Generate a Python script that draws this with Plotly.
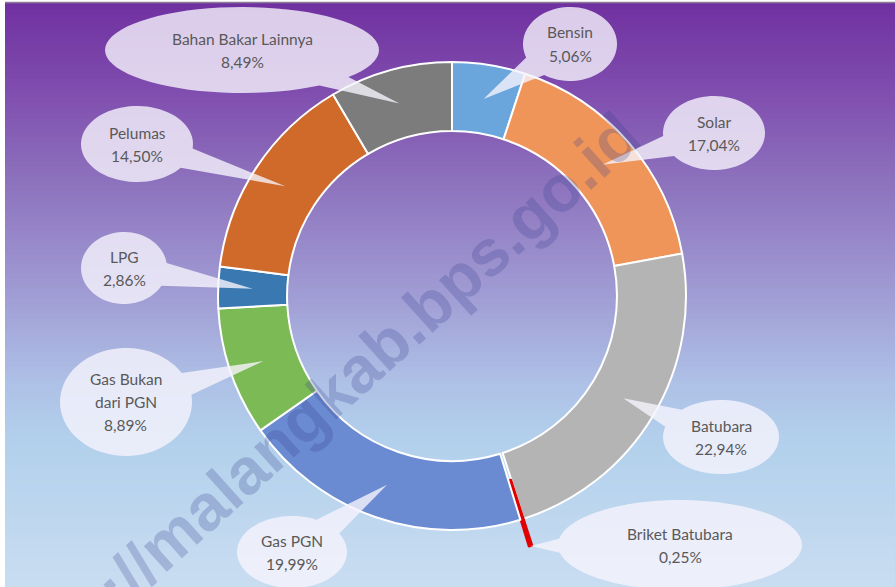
import math
import plotly.graph_objects as go

# ---------------- data ----------------
labels = ["Bensin", "Solar", "Batubara", "Briket Batubara", "Gas PGN",
          "Gas Bukan dari PGN", "LPG", "Pelumas", "Bahan Bakar Lainnya"]
label_lines = ["Bensin", "Solar", "Batubara", "Briket Batubara", "Gas PGN",
               "Gas Bukan<br>dari PGN", "LPG", "Pelumas", "Bahan Bakar Lainnya"]
values = [5.06, 17.04, 22.94, 0.25, 19.99, 8.89, 2.86, 14.50, 8.49]
value_text = ["5,06%", "17,04%", "22,94%", "0,25%", "19,99%",
              "8,89%", "2,86%", "14,50%", "8,49%"]

# ---------------- styling / layout ----------------
W, H = 895, 587
colors = ["#6aa6db", "#f0955a", "#b4b4b4", "#e00000", "#6a8bd2",
          "#7cba55", "#3a78b2", "#cf6a2a", "#7c7c7c"]
line_colors = ["white"] * len(values)
line_colors[3] = "#e00000"
pulls = [0, 0, 0, 0.12, 0, 0, 0, 0, 0]

CX, CY = 452, 296      # pie centre in pixels
R_OUT = 234            # outer radius in pixels
HOLE = 0.705
MAXPULL = max(pulls)
half = R_OUT * (1 + MAXPULL)

# callout ellipses: centre x, centre y, rx, ry (pixels)
bubbles = [
    (570, 44, 47, 37),
    (714, 133, 51, 37),
    (721, 437, 58, 37),
    (680, 545, 122, 45),
    (292, 552, 55, 36),
    (126, 402, 66, 54),
    (124, 268, 43, 36),
    (137, 144, 56, 38),
    (242, 50, 137, 43),
]
tip_r_frac = [0.85, 0.85, 0.85, 1.0, 0.85, 0.85, 0.85, 0.85, 0.85]


def px(x):
    return x / W


def py(y):
    return 1 - y / H


def lerp(c1, c2, t):
    return tuple(int(round(a + (b - a) * t)) for a, b in zip(c1, c2))


grad_stops = [(0.0, (112, 48, 160)), (0.15, (127, 76, 174)), (0.3, (140, 112, 188)),
              (0.5, (160, 156, 212)), (0.65, (174, 192, 230)), (0.75, (178, 208, 236)),
              (1.0, (201, 221, 241))]


def grad_color(t):
    for (t0, c0), (t1, c1) in zip(grad_stops[:-1], grad_stops[1:]):
        if t0 <= t <= t1:
            return lerp(c0, c1, (t - t0) / (t1 - t0))
    return grad_stops[-1][1]


shapes = []
N = 120
for i in range(N):
    t = (i + 0.5) / N
    c = grad_color(t)
    shapes.append(dict(type="rect", xref="paper", yref="paper", layer="below",
                       x0=0, x1=1, y0=1 - i / N, y1=1 - (i + 1) / N - 0.002,
                       line=dict(width=0), fillcolor="rgb(%d,%d,%d)" % c))
shapes.append(dict(type="rect", xref="paper", yref="paper", layer="below",
                   x0=0, x1=px(5), y0=0, y1=1, line=dict(width=0), fillcolor="white"))
shapes.append(dict(type="rect", xref="paper", yref="paper", layer="below",
                   x0=0, x1=1, y0=py(2), y1=1, line=dict(width=0), fillcolor="white"))
shapes.append(dict(type="line", xref="paper", yref="paper", layer="below",
                   x0=px(5), x1=1, y0=py(2.5), y1=py(2.5), line=dict(width=1.5, color="#8c7c96")))

# callouts (ellipse + pointer) with tip at the slice's mid-angle
total = sum(values)
cum = 0.0
annotations = []
for i, v in enumerate(values):
    mid = (cum + v / 2) / total * 2 * math.pi
    cum += v
    r_mid = R_OUT * (HOLE + 1) / 2 if tip_r_frac[i] < 1 else R_OUT * (1 + pulls[i])
    tx = CX + r_mid * math.sin(mid)
    ty = CY - r_mid * math.cos(mid)
    bx, by, rx, ry = bubbles[i]
    ang = math.atan2((ty - by) / ry, (tx - bx) / rx)
    dt = 13.0 / ((rx + ry) / 2)
    pts = []
    n = 72
    for k in range(n + 1):
        a = ang + dt + (2 * math.pi - 2 * dt) * k / n
        pts.append((bx + rx * math.cos(a), by + ry * math.sin(a)))
    pts.append((tx, ty))
    path = "M " + " L ".join("%.5f,%.5f" % (px(x), py(y)) for x, y in pts) + " Z"
    shapes.append(dict(type="path", xref="paper", yref="paper", layer="above",
                       path=path, fillcolor="rgba(246,244,252,0.80)",
                       line=dict(width=0)))
    lines = label_lines[i].split("<br>") + [value_text[i]]
    sp = 23
    y0 = by - sp * (len(lines) - 1) / 2
    for j, t in enumerate(lines):
        annotations.append(dict(x=px(bx), y=py(y0 + j * sp), xref="paper", yref="paper",
                                text=t, showarrow=False, xanchor="center", yanchor="middle",
                                font=dict(family="Lato", size=15.5, color="#595959")))

# watermark
annotations.append(dict(x=px(321), y=py(402), xref="paper", yref="paper",
                        text="<b>http://malangkab.bps.go.id</b>", showarrow=False,
                        textangle=-42, xanchor="center", yanchor="middle",
                        font=dict(family="Liberation Sans", size=65,
                                  color="rgba(55,65,145,0.25)")))

fig = go.Figure(go.Pie(
    labels=labels, values=values, sort=False, direction="clockwise", rotation=0,
    hole=HOLE, pull=pulls, textinfo="none", showlegend=False,
    marker=dict(colors=colors, line=dict(color=line_colors, width=2)),
    domain=dict(x=[px(CX - half), px(CX + half)], y=[py(CY + half), py(CY - half)]),
))
fig.update_layout(width=W, height=H, margin=dict(l=0, r=0, t=0, b=0),
                  paper_bgcolor="white", shapes=shapes, annotations=annotations)
fig.write_html("out.html", config={"displayModeBar": False},
               post_script="document.body.style.margin='0';document.body.style.overflow='hidden';")
